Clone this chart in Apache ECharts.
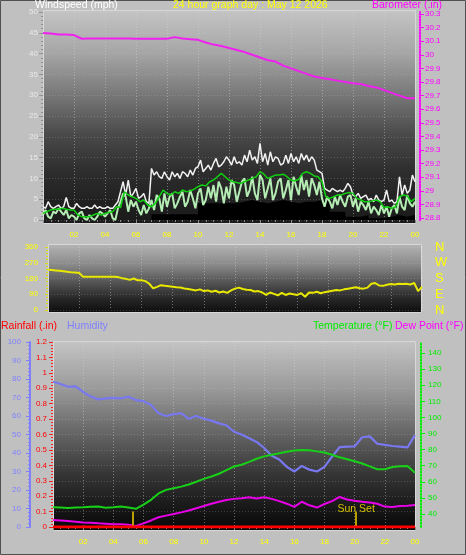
<!DOCTYPE html>
<html><head><meta charset="utf-8">
<script src="https://cdn.jsdelivr.net/npm/echarts@6/dist/echarts.min.js"></script>
<style>html,body{margin:0;padding:0;background:#c0c0c0;}#c{width:466px;height:555px;}</style>
</head><body><div id="c"></div><script>
// ---------- DATA ----------
const xTickLabels = ['', '02','04','06','08','10','12','14','16','18','20','22','00'];
const baroTicks = [28.8,28.9,29,29.1,29.2,29.3,29.4,29.5,29.6,29.7,29.8,29.9,30,30.1,30.2,30.3];
const tempTicks = [40,50,60,70,80,90,100,110,120,130,140];
const compassLabels = ['N','E','S','W','N'];

// wind gust (mph), every 10 minutes
const windGust = [3.2,2.8,4.4,3.2,2.8,3.2, 3.6,2.8,3.2,5.4,3.2,2.8, 2.8,4.0,3.2,2.8,2.8,3.2, 2.8,2.8,3.6,2.8,3.2,2.8,
 2.8,3.2,2.8,2.8,3.6,4.4, 6.8,9.2,6.0,9.6,5.6,6.4, 7.6,5.2,5.6,6.4,4.4,4.0, 12.4,10.8,11.6,10.4,10.0,11.6,
 10.4,9.6,11.6,10.4,11.2,10.0, 11.6,11.2,10.4,12.0,10.8,12.4, 12.8,14.4,11.6,12.4,13.2,12.0, 13.6,14.8,12.8,13.2,14.0,15.2,
 14.4,13.2,15.2,13.6,14.0,13.2, 15.6,14.0,16.8,14.4,15.2,13.6, 18.4,14.0,16.0,13.2,16.4,14.0, 15.2,14.8,13.2,13.6,15.6,13.6,
 16.0,14.0,15.2,13.6,16.0,14.4, 15.6,14.0,15.2,14.4,12.0,11.6, 11.2,7.6,7.2,6.8,7.6,7.2, 6.8,7.2,6.8,7.6,8.8,8.0,
 6.0,5.6,6.4,5.2,5.6,6.0, 4.8,5.2,4.4,6.0,4.8,4.4, 4.8,7.2,4.4,4.8,4.0,4.4, 10.4,6.0,8.4,6.4,7.2,10.8, 9.2];
// wind speed (mph), every 10 minutes
const windSpeed = [1.2,2.4,0.8,0.4,2.0,1.6, 2.8,2.0,1.2,2.4,0.4,1.2, 0.8,0.0,1.6,2.0,0.4,0.0, 1.2,0.4,0.0,0.8,2.0,1.6,
 0.8,1.6,2.4,0.4,0.0,2.8, 4.4,6.4,5.6,2.0,4.8,3.2, 4.4,2.4,1.2,3.6,1.6,2.8, 4.8,2.4,6.0,5.2,2.0,6.4,
 3.2,5.6,6.4,2.8,4.0,5.6, 6.8,3.2,4.4,7.2,5.2,2.8, 6.4,7.6,3.6,4.8,8.0,5.2, 8.4,4.4,9.2,7.6,4.0,8.0,
 5.2,9.6,8.4,4.4,6.8,9.2, 10.0,5.6,7.2,10.4,6.4,4.8, 10.8,9.6,5.2,7.6,10.0,4.8, 6.4,9.2,10.0,5.2,7.2,9.6,
 4.8,10.4,8.0,6.0,10.8,7.2, 9.6,5.6,10.0,8.4,6.0,9.2, 5.2,3.2,5.6,4.4,2.8,5.6, 3.6,6.0,4.4,3.2,5.6,6.0,
 3.2,5.2,2.0,4.4,3.6,2.4, 4.4,1.6,3.2,2.4,1.2,3.6, 1.6,3.2,0.8,2.8,3.6,1.6, 5.6,3.2,2.4,6.0,4.0,3.2, 4.4];
// average wind (mph), every 15 minutes
const windAvg = [1.6,2.0,2.4,2.6, 2.6,2.8,2.6,2.4, 2.4,1.2,0.8,0.8, 0.8,1.2,1.6,1.2, 1.6,1.8,2.0,3.2, 3.0,6.8,6.0,5.6,
 5.2,4.4,4.8,3.6, 3.2,4.0,5.6,7.2, 6.4,6.0,6.8,6.4, 7.2,6.8,7.0,7.4, 8.0,8.4,8.2,9.2, 9.6,10.4,11.2,10.4,
 9.6,9.2,9.0,8.8, 9.2,9.6,10.0,10.4, 11.6,11.0,10.0,10.4, 10.8,10.8,11.0,10.4, 9.6,9.4,9.8,11.2, 11.6,11.2,10.6,10.4,
 9.2,5.6,5.2,5.6, 6.0,6.0,6.4,6.6, 6.4,5.2,4.8,4.4, 4.4,4.6,4.8,4.4, 3.0,3.2,2.8,3.2, 5.6,6.0,5.8,4.4, 5.2];
// wind lull (mph), every 30 minutes
const windLull = [0,0,0,0,0,0,0,0,0,0,0,0,0,0, 1.4,1.4,1.4,1.4,1.4,1.4, 4.0,4.0,4.0,4.0,4.0,
 4.4,4.8,4.4,4.0,4.4,4.8,4.4,4.0,4.4,4.4,4.8,4.4, 2.0,2.0, 0.8,0.8,1.2,0.4,0.4,0.8,1.2,0.8,1.2,1.2];
// barometer (in), every 30 minutes
const barometer = [30.16,30.157,30.15,30.15,30.145,30.118,30.12,30.12,30.12,30.12,30.12,30.12,30.118,30.118,30.118,30.118,
 30.118,30.13,30.12,30.115,30.11,30.09,30.075,30.065,30.05,30.035,30.02,30.0,29.98,29.96,29.95,29.92,
 29.90,29.88,29.86,29.84,29.83,29.82,29.81,29.80,29.79,29.785,29.77,29.76,29.74,29.72,29.70,29.68,29.68];
// wind direction (deg), every 15 minutes
const windDir = [230,228,226,224, 222,218,215,214, 212,190,190,190, 190,190,190,190, 190,190,188,182,
 178,172,180,170, 170,165,150,124, 132,142,138,136, 133,130,128,123, 120,116,112,118, 108,112,104,110,
 100,106,98,112, 122,128,120,116, 114,106,108,100, 86,100,92,84, 98,86,94,90, 86,96,76,100,
 98,104,96,102, 106,110,114,112, 118,122,126,130, 124,122,128,150, 154,140,138,144, 148,146,150,148,
 150,146,154,108, 132];
// humidity (%), every 30 minutes
const humidity = [78.5,77.3,75.8,76.0,73.0,70.5,69.0,69.5,69.8,69.5,70.4,68.6,68.0,66.0,61.5,60.0,61.0,61.5,58.5,60.0,
 58.5,57.5,56.0,55.0,51.5,50.0,48.0,46.0,42.7,38.5,36.5,32.5,30.0,33.0,31.0,30.0,32.5,38.0,43.2,43.4,
 43.6,48.5,49.0,45.0,44.4,43.8,43.4,43.0,49.7];
// temperature (F), every 30 minutes
const temperature = [44.2,44.0,43.8,44.1,44.2,44.5,44.6,43.9,44.2,44.6,44.0,43.2,45.8,48.8,52.8,55.0,56.0,57.0,58.3,60.0,
 61.8,63.3,65.0,67.3,69.5,70.6,72.4,74.3,75.8,76.8,77.7,78.6,79.4,79.8,79.6,78.9,78.2,76.8,75.2,74.0,
 72.8,71.4,69.6,67.8,67.8,69.2,69.6,69.8,65.6];
// dew point (F), every 30 minutes
const dewPoint = [36.3,36.0,35.6,35.2,34.8,34.6,34.2,34.0,33.6,33.6,33.4,32.6,34.2,36.0,38.0,39.0,40.0,41.0,42.2,43.6,
 45.0,46.4,47.6,48.7,49.4,49.8,50.4,49.7,50.4,49.4,48.0,46.4,44.4,47.6,45.4,44.0,46.2,48.0,50.6,49.0,
 48.2,47.6,47.2,46.4,44.6,44.4,45.0,45.2,45.6];
// rainfall (in), hourly
const rainfall = [0,0,0,0,0,0,0,0,0,0,0,0,0,0,0,0,0,0,0,0,0,0,0,0,0];
const sunEvents = [{label:'', hour:5.3}, {label:'Sun Set', hour:20.1}];

// ---------- CHART ----------
const FONT = 'Liberation Sans, Arial, sans-serif';
const TEMP_MIN = 31.93, TEMP_MAX = 146.83;
const pairs = (arr, step) => arr.map((v, i) => [i * step, v]);
const grad = (stops) => new echarts.graphic.LinearGradient(0, 0, 0, 1, stops.map(s => ({offset: s[0], color: s[1]})));
const vGrid = {show: true, lineStyle: {color: 'rgba(215,215,215,0.45)', type: [1, 2], width: 1}};
const hGrid = {show: true, lineStyle: {color: 'rgba(215,215,215,0.22)', type: [1, 2], width: 1}};

function xAx(grid, showLabels) {
  return {
    type: 'value', gridIndex: grid, min: 0, max: 24, interval: 2, offset: showLabels ? 3 : 0,
    axisLine: {show: false},
    axisTick: {show: showLabels, length: 3, lineStyle: {color: '#8a8a8a'}},
    minorTick: {show: showLabels, splitNumber: 4, length: 2, lineStyle: {color: '#8a8a8a'}},
    splitLine: vGrid,
    axisLabel: {show: showLabels, color: '#ffff00', fontSize: 8, fontFamily: FONT, margin: 8,
      formatter: v => xTickLabels[Math.round(v / 2)]}
  };
}

const chart = echarts.init(document.getElementById('c'), null, {renderer: 'canvas'});
const titleStyle = (c) => ({color: c, fontSize: 10.5, fontWeight: 'normal', fontFamily: FONT});

chart.setOption({
  animation: false,
  backgroundColor: '#c0c0c0',
  title: [
    {text: 'Windspeed (mph)', left: 35, top: 0, padding: 0, textStyle: titleStyle('#ffffff')},
    {text: '24 hour graph day : May 12 2026', left: 173, top: 0, padding: 0, textStyle: titleStyle('#ffff00')},
    {text: 'Barometer (.in)', left: 372, top: 0, padding: 0, textStyle: titleStyle('#ff00ff')},
    {text: 'Rainfall (.in)', left: 1, top: 321, padding: 0, textStyle: titleStyle('#ff0000')},
    {text: 'Humidity', left: 67, top: 321, padding: 0, textStyle: titleStyle('#8080ff')},
    {text: 'Temperature (°F)', left: 313, top: 321, padding: 0, textStyle: titleStyle('#00ee00')},
    {text: 'Dew Point (°F)', left: 395, top: 321, padding: 0, textStyle: titleStyle('#ff00ff')}
  ],
  graphic: [
    {type: 'rect', z: -10, shape: {x: 0.5, y: 0.5, width: 465, height: 554}, style: {fill: '#c0c0c0', stroke: '#505050'}},
    {type: 'rect', z: -9, shape: {x: 43.5, y: 10.5, width: 372, height: 213},
      style: {fill: grad([[0,'#c4c4c4'],[0.2,'#a6a6a6'],[0.42,'#727272'],[0.58,'#4a4a4a'],[0.75,'#2e2e2e'],[0.9,'#202020'],[1,'#1a1a1a']]), stroke: '#d8d8d8'}},
    {type: 'rect', z: -9, shape: {x: 48.5, y: 244.5, width: 373, height: 68},
      style: {fill: grad([[0,'#b4b4b4'],[0.3,'#8a8a8a'],[0.55,'#555555'],[0.8,'#262626'],[1,'#0c0c0c']]), stroke: '#d8d8d8'}},
    {type: 'rect', z: -9, shape: {x: 53.5, y: 341.5, width: 362, height: 189},
      style: {fill: grad([[0,'#c4c4c4'],[0.25,'#9a9a9a'],[0.5,'#626262'],[0.7,'#363636'],[0.85,'#1c1c1c'],[1,'#060606']]), stroke: '#d8d8d8'}}
  ],
  grid: [
    {left: 43, top: 12, width: 372, height: 208},
    {left: 48, top: 247, width: 374, height: 63},
    {left: 53, top: 342, width: 362, height: 185}
  ],
  xAxis: [xAx(0, true), xAx(1, false), xAx(2, true)],
  yAxis: [
    // 0 wind speed
    {type: 'value', gridIndex: 0, position: 'left', min: 0, max: 50, interval: 5,
      axisLine: {show: false},
      axisTick: {show: true, length: 4, lineStyle: {color: '#909090'}},
      minorTick: {show: true, splitNumber: 5, length: 2, lineStyle: {color: '#909090'}},
      splitLine: hGrid,
      axisLabel: {color: '#e8e8e8', fontSize: 8, fontFamily: FONT, margin: 5}},
    // 1 barometer
    {type: 'value', gridIndex: 0, position: 'right', min: 28.785, max: 30.3147, offset: 5,
      axisLine: {show: true, lineStyle: {color: '#ff00ff', width: 2, type: [1, 1.7]}},
      axisTick: {show: true, length: 4, customValues: baroTicks, lineStyle: {color: '#ff00ff'}},
      splitLine: {show: false},
      axisLabel: {color: '#ff00ff', fontSize: 8, fontFamily: FONT, margin: 5, customValues: baroTicks, formatter: v => String(v)}},
    // 2 wind direction
    {type: 'value', gridIndex: 1, position: 'left', min: 0, max: 360, interval: 90,
      axisLine: {show: false},
      axisTick: {show: true, length: 3, lineStyle: {color: '#e0e000'}},
      minorTick: {show: true, splitNumber: 5, length: 2, lineStyle: {color: '#e0e000'}},
      splitLine: hGrid,
      axisLabel: {color: '#ffff00', fontSize: 8, fontFamily: FONT, margin: 10}},
    // 3 compass
    {type: 'value', gridIndex: 1, position: 'right', min: 0, max: 360, interval: 90,
      axisLine: {show: false}, axisTick: {show: false}, splitLine: {show: false},
      axisLabel: {color: '#ffff00', fontSize: 13, fontFamily: FONT, margin: 13,
        formatter: v => compassLabels[Math.round(v / 90)]}},
    // 4 rainfall
    {type: 'value', gridIndex: 2, position: 'left', min: 0, max: 1.2, interval: 0.1,
      axisLine: {show: false},
      axisTick: {show: true, length: 4, lineStyle: {color: '#ff2020'}},
      minorTick: {show: true, splitNumber: 5, length: 2, lineStyle: {color: '#ff2020'}},
      splitLine: hGrid,
      axisLabel: {color: '#ff0000', fontSize: 8, fontFamily: FONT, margin: 6}},
    // 5 humidity
    {type: 'value', gridIndex: 2, position: 'left', offset: 23, min: 0, max: 100, interval: 10,
      axisLine: {show: true, lineStyle: {color: '#8080ff', width: 2}},
      axisTick: {show: true, length: 4, lineStyle: {color: '#8080ff'}},
      minorTick: {show: true, splitNumber: 5, length: 2, lineStyle: {color: '#8080ff'}},
      splitLine: {show: false},
      axisLabel: {color: '#8080ff', fontSize: 8, fontFamily: FONT, margin: 9}},
    // 6 temperature / dew point
    {type: 'value', gridIndex: 2, position: 'right', offset: 6, min: TEMP_MIN, max: TEMP_MAX,
      axisLine: {show: true, lineStyle: {color: '#00ee00', width: 2, type: [1.2, 2]}},
      axisTick: {show: true, length: 4, customValues: tempTicks, lineStyle: {color: '#00ee00'}},
      splitLine: {show: false},
      axisLabel: {color: '#00ee00', fontSize: 8, fontFamily: FONT, margin: 7, customValues: tempTicks}}
  ],
  series: [
    {name: 'Lull', type: 'line', xAxisIndex: 0, yAxisIndex: 0, data: pairs(windLull, 0.5), step: 'end',
      symbol: 'none', lineStyle: {width: 0}, areaStyle: {color: '#000000', opacity: 1}, z: 1},
    {name: 'Gust', type: 'line', xAxisIndex: 0, yAxisIndex: 0, data: pairs(windGust, 1/6),
      symbol: 'none', lineStyle: {color: '#f2f2f2', width: 1.5}, z: 2},
    {name: 'Speed', type: 'line', xAxisIndex: 0, yAxisIndex: 0, data: pairs(windSpeed, 1/6),
      symbol: 'none', lineStyle: {color: '#b4ecb4', width: 2}, z: 3},
    {name: 'Average', type: 'line', xAxisIndex: 0, yAxisIndex: 0, data: pairs(windAvg, 0.25),
      symbol: 'none', lineStyle: {color: '#10d010', width: 1.5}, z: 4},
    {name: 'Barometer', type: 'line', xAxisIndex: 0, yAxisIndex: 1, data: pairs(barometer, 0.5),
      symbol: 'none', lineStyle: {color: '#f020f0', width: 2}, z: 5},
    {name: 'Direction', type: 'line', xAxisIndex: 1, yAxisIndex: 2, data: pairs(windDir, 0.25),
      symbol: 'none', lineStyle: {color: '#e8e800', width: 2}},
    {name: 'Humidity', type: 'line', xAxisIndex: 2, yAxisIndex: 5, data: pairs(humidity, 0.5),
      symbol: 'none', lineStyle: {color: '#7878f0', width: 2.2}, z: 3},
    {name: 'Temperature', type: 'line', xAxisIndex: 2, yAxisIndex: 6, data: pairs(temperature, 0.5),
      symbol: 'none', lineStyle: {color: '#18d018', width: 2}, z: 4,
      markLine: {silent: true, symbol: 'none', animation: false,
        lineStyle: {color: '#b8a000', width: 2, type: 'solid'},
        label: {show: true, position: 'end', color: '#d8c400', fontSize: 10.5, fontFamily: FONT, distance: -3,
          formatter: p => p.name},
        data: sunEvents.map(e => [{name: e.label, coord: [e.hour, TEMP_MIN]}, {coord: [e.hour, 41.6]}])}},
    {name: 'Dew Point', type: 'line', xAxisIndex: 2, yAxisIndex: 6, data: pairs(dewPoint, 0.5),
      symbol: 'none', lineStyle: {color: '#e800e8', width: 2}, z: 4},
    {name: 'Rainfall', type: 'line', xAxisIndex: 2, yAxisIndex: 4, data: pairs(rainfall, 1),
      symbol: 'none', lineStyle: {color: '#ff0000', width: 3}, z: 5}
  ]
});
</script></body></html>
